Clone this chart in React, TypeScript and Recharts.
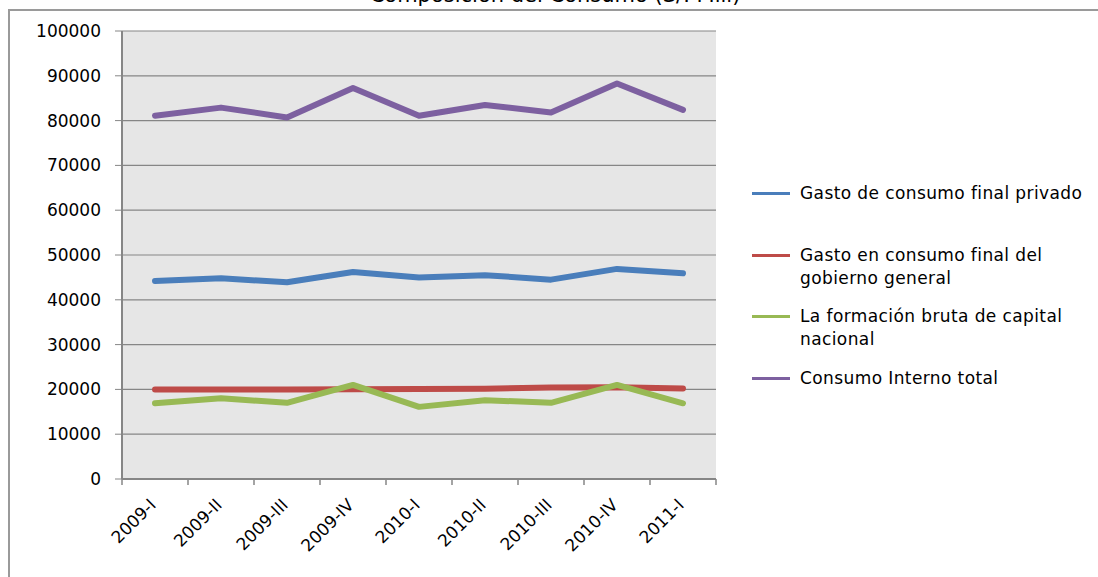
import React from "react";
import { LineChart, Line, XAxis, YAxis, CartesianGrid } from "recharts";

// Composición del Consumo (S/. Mill)
const categories = ["2009-I", "2009-II", "2009-III", "2009-IV", "2010-I", "2010-II", "2010-III", "2010-IV", "2011-I"];
const privado = [44200, 44800, 43900, 46200, 45000, 45500, 44500, 46900, 45900];
const gobierno = [20000, 20000, 20000, 20050, 20100, 20150, 20400, 20500, 20200];
const capital = [16900, 18000, 17000, 21000, 16100, 17600, 17000, 21000, 16900];
const total = [81100, 82900, 80700, 87300, 81100, 83500, 81800, 88300, 82400];
const yTicks = [0, 10000, 20000, 30000, 40000, 50000, 60000, 70000, 80000, 90000, 100000];

const series = [
  { key: "privado", name: "Gasto de consumo final privado", color: "#4A7EBB", values: privado },
  { key: "gobierno", name: "Gasto en consumo final del gobierno general", color: "#BE4B48", values: gobierno },
  { key: "capital", name: "La formación bruta de capital nacional", color: "#98B954", values: capital },
  { key: "total", name: "Consumo Interno total", color: "#7D60A0", values: total },
];

const data = categories.map((cat, i) => {
  const row: Record<string, string | number> = { cat };
  series.forEach((s) => (row[s.key] = s.values[i]));
  return row;
});

const FONT = "'DejaVu Sans', sans-serif";
const AXIS = "#868686";
const HALF_BAND = 594 / categories.length / 2;

function XTick(props: any) {
  const { x, y, payload, index } = props;
  const tx = x + 2;
  const ty = y + 21;
  return (
    <g>
      <line x1={x - HALF_BAND} x2={x - HALF_BAND} y1={y - 6} y2={y} stroke={AXIS} strokeWidth={1.5} />
      {index === categories.length - 1 && (
        <line x1={x + HALF_BAND} x2={x + HALF_BAND} y1={y - 6} y2={y} stroke={AXIS} strokeWidth={1.5} />
      )}
      <text x={tx} y={ty} textAnchor="end" fontSize={17} fontFamily={FONT} fill="#000" transform={`rotate(-45, ${tx}, ${ty})`}>
        {payload.value}
      </text>
    </g>
  );
}

const legendTops = [182, 244, 305, 367];
const legendLines = [
  ["Gasto de consumo final privado"],
  ["Gasto en consumo final del", "gobierno general"],
  ["La formación bruta de capital", "nacional"],
  ["Consumo Interno total"],
];

export default function App() {
  return (
    <div style={{ position: "absolute", left: 0, top: 0, width: 1098, height: 577, overflow: "hidden", background: "#fff" }}>
      <div
        style={{
          position: "absolute",
          left: 8,
          top: 9,
          width: 1100,
          height: 580,
          borderTop: "2px solid #9a9a9a",
          borderLeft: "2px solid #9a9a9a",
        }}
      />
      <div
        style={{
          position: "absolute",
          left: 0,
          width: 1110,
          top: -19,
          textAlign: "center",
          fontFamily: FONT,
          fontSize: 21,
          lineHeight: "28px",
          color: "#000",
        }}
      >
        Composición del Consumo (S/. Mill)
      </div>
      <div style={{ position: "absolute", left: 0, top: 0 }}>
        <LineChart width={1098} height={577} data={data} margin={{ top: 31, right: 382, bottom: 0, left: 0 }}>
          <CartesianGrid vertical={false} fill="#E6E6E6" stroke={AXIS} strokeWidth={1.2} />
          <XAxis
            dataKey="cat"
            height={98}
            interval={0}
            padding={{ left: HALF_BAND, right: HALF_BAND }}
            tickLine={false}
            tickSize={6}
            tickMargin={0}
            axisLine={{ stroke: AXIS, strokeWidth: 2 }}
            tick={<XTick />}
          />
          <YAxis
            width={122}
            domain={[0, 100000]}
            ticks={yTicks}
            interval={0}
            tickSize={7}
            tickMargin={14}
            axisLine={{ stroke: AXIS, strokeWidth: 2 }}
            tickLine={{ stroke: AXIS }}
            tick={{ fontSize: 17, fontFamily: FONT, fill: "#000" }}
          />
          {series.map((s) => (
            <Line
              key={s.key}
              type="linear"
              dataKey={s.key}
              name={s.name}
              stroke={s.color}
              strokeWidth={6}
              strokeLinecap="round"
              strokeLinejoin="round"
              dot={false}
              activeDot={false}
              isAnimationActive={false}
            />
          ))}
        </LineChart>
      </div>
      {series.map((s, i) => (
        <div
          key={s.key}
          style={{ position: "absolute", left: 752, top: legendTops[i], fontFamily: FONT, fontSize: 17, letterSpacing: 0.4, lineHeight: "23px" }}
        >
          <div style={{ position: "absolute", left: 0, top: 10, width: 38, height: 3, background: s.color }} />
          <div style={{ marginLeft: 48, whiteSpace: "nowrap" }}>
            {legendLines[i].map((t) => (
              <div key={t}>{t}</div>
            ))}
          </div>
        </div>
      ))}
    </div>
  );
}
